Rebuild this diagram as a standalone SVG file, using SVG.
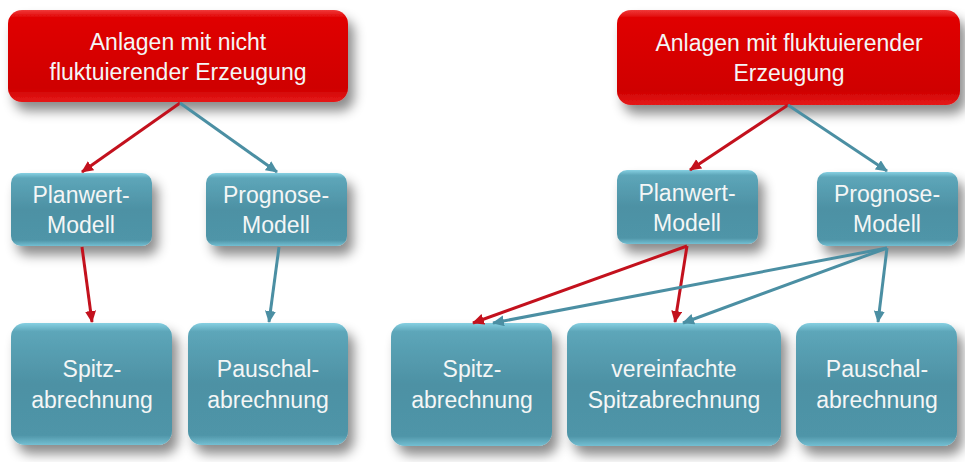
<svg xmlns="http://www.w3.org/2000/svg" width="965" height="462" viewBox="0 0 965 462">
<style>
text{font-family:"Liberation Sans",Arial,sans-serif;font-size:23px;fill:#f4f6f6;text-anchor:middle}
.red{fill:url(#gRed);filter:url(#sh)}
.teal{fill:url(#gTeal);filter:url(#sh)}
.cr{stroke:#c3111d;stroke-width:3;fill:none;marker-end:url(#aR)}
.ct{stroke:#4b8fa3;stroke-width:3;fill:none;marker-end:url(#aT)}
</style>
<defs>
<linearGradient id="gRed" x1="0" y1="0" x2="0" y2="1">
<stop offset="0" stop-color="#f03a3a"/>
<stop offset="0.08" stop-color="#e00404"/>
<stop offset="0.85" stop-color="#cf0000"/>
<stop offset="1" stop-color="#e51a1a"/>
</linearGradient>
<linearGradient id="gTeal" x1="0" y1="0" x2="0" y2="1">
<stop offset="0" stop-color="#86d0e2"/>
<stop offset="0.07" stop-color="#5da6b9"/>
<stop offset="0.5" stop-color="#4d91a4"/>
<stop offset="0.92" stop-color="#4f95a8"/>
<stop offset="1" stop-color="#74bfd2"/>
</linearGradient>
<filter id="sh" x="-10%" y="-15%" width="130%" height="155%">
<feDropShadow dx="6" dy="9" stdDeviation="6" flood-color="#000" flood-opacity="0.45"/>
</filter>
<marker id="aR" markerUnits="userSpaceOnUse" markerWidth="14" markerHeight="12" refX="11" refY="5.5" orient="auto">
<path d="M0,0 L12,5.5 L0,11 z" fill="#c3111d"/>
</marker>
<marker id="aT" markerUnits="userSpaceOnUse" markerWidth="14" markerHeight="12" refX="11" refY="5.5" orient="auto">
<path d="M0,0 L12,5.5 L0,11 z" fill="#4b8fa3"/>
</marker>
</defs>

<g id="n_left_top">
<rect class="red" x="8" y="10" width="340" height="92" rx="14"/>
<text x="178" y="50">Anlagen mit nicht</text>
<text x="178" y="80">fluktuierender Erzeugung</text>
</g>
<g id="n_left_planwert">
<rect class="teal" x="11" y="173" width="141" height="73" rx="10"/>
<text x="81" y="203">Planwert-</text>
<text x="81" y="233">Modell</text>
</g>
<g id="n_left_prognose">
<rect class="teal" x="206" y="173" width="141" height="73" rx="10"/>
<text x="276" y="203">Prognose-</text>
<text x="276" y="233">Modell</text>
</g>
<g id="n_left_spitz">
<rect class="teal" x="11" y="323" width="161" height="122" rx="14"/>
<text x="92" y="377">Spitz-</text>
<text x="92" y="408">abrechnung</text>
</g>
<g id="n_left_pauschal">
<rect class="teal" x="188" y="323" width="160" height="122" rx="14"/>
<text x="268" y="377">Pauschal-</text>
<text x="268" y="408">abrechnung</text>
</g>

<g id="n_right_top">
<rect class="red" x="617" y="10" width="343" height="95" rx="14"/>
<text x="789" y="51">Anlagen mit fluktuierender</text>
<text x="789" y="81">Erzeugung</text>
</g>
<g id="n_right_planwert">
<rect class="teal" x="617" y="170" width="141" height="74" rx="10"/>
<text x="687" y="201">Planwert-</text>
<text x="687" y="231">Modell</text>
</g>
<g id="n_right_prognose">
<rect class="teal" x="817" y="172" width="141" height="74" rx="10"/>
<text x="887" y="202">Prognose-</text>
<text x="887" y="232">Modell</text>
</g>
<g id="n_right_spitz">
<rect class="teal" x="391" y="323" width="161" height="123" rx="14"/>
<text x="472" y="377">Spitz-</text>
<text x="472" y="408">abrechnung</text>
</g>
<g id="n_right_vereinfacht">
<rect class="teal" x="567" y="323" width="214" height="123" rx="14"/>
<text x="674" y="377">vereinfachte</text>
<text x="674" y="408">Spitzabrechnung</text>
</g>
<g id="n_right_pauschal">
<rect class="teal" x="796" y="323" width="161" height="123" rx="14"/>
<text x="877" y="377">Pauschal-</text>
<text x="877" y="408">abrechnung</text>
</g>

<g id="connectors">
<line class="cr" x1="180" y1="103" x2="82" y2="172"/>
<line class="ct" x1="180" y1="103" x2="277" y2="172"/>
<line class="cr" x1="82" y1="247" x2="92" y2="322"/>
<line class="ct" x1="279" y1="247" x2="269" y2="322"/>
<line class="cr" x1="788" y1="105" x2="690" y2="170"/>
<line class="ct" x1="788" y1="105" x2="887" y2="171"/>
<line class="cr" x1="687" y1="246" x2="473" y2="323"/>
<line class="cr" x1="687" y1="246" x2="675" y2="322"/>
<line class="ct" x1="887" y1="248" x2="493" y2="323"/>
<line class="ct" x1="887" y1="248" x2="683" y2="323"/>
<line class="ct" x1="887" y1="248" x2="878" y2="322"/>
</g>
</svg>
